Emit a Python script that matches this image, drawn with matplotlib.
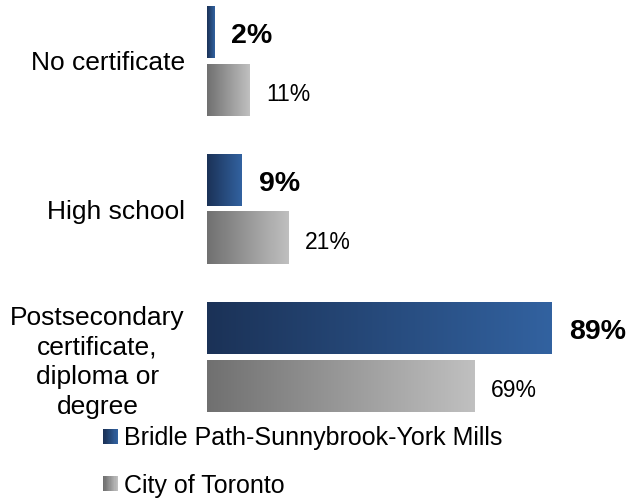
import numpy as np
import matplotlib
matplotlib.use("Agg")
import matplotlib.pyplot as plt
from matplotlib.colors import LinearSegmentedColormap
from matplotlib.legend_handler import HandlerBase
from matplotlib.patches import Rectangle

plt.rcParams["font.family"] = ["Liberation Sans", "DejaVu Sans"]

# Data
categories = ["No certificate", "High school",
              "Postsecondary\ncertificate,\ndiploma or\ndegree"]
area_values = [2, 9, 89]
city_values = [11, 21, 69]
series_names = ["Bridle Path-Sunnybrook-York Mills", "City of Toronto"]

# Gradient colour maps (dark on the left, light on the right)
blue_cmap = LinearSegmentedColormap.from_list("blue", ["#1b3257", "#3262a0"])
gray_cmap = LinearSegmentedColormap.from_list("gray", ["#707070", "#c0c0c0"])

W, H = 628, 499
fig = plt.figure(figsize=(W / 100, H / 100), dpi=100)
# axes placed in pixel terms: x from 207 px, 3.876 px per percent
ax_left, ax_width = 207, 387.6
ax_top, ax_bottom = 0, 420
ax = fig.add_axes([ax_left / W, 1 - ax_bottom / H, ax_width / W, (ax_bottom - ax_top) / H])

# group pitch is 148 px, group 0 centre at 61 px from top
pitch, c0 = 148.0, 61.0

pos = np.arange(len(categories))
bar_h = 52 / pitch
off = 29 / pitch

area_bars = ax.barh(pos - off, area_values, height=bar_h, color="none")
city_bars = ax.barh(pos + off, city_values, height=bar_h, color="none")

grad = np.linspace(0, 1, 256).reshape(1, -1)
for bars, cmap in [(area_bars, blue_cmap), (city_bars, gray_cmap)]:
    for p in bars:
        x0, y0, w, h = p.get_x(), p.get_y(), p.get_width(), p.get_height()
        ax.imshow(grad, cmap=cmap, aspect="auto",
                  extent=(x0, x0 + w, y0 + h, y0), zorder=2)

ax.set_xlim(0, 100)
ax.set_ylim((ax_bottom - c0) / pitch, (ax_top - c0) / pitch)

for p, v in zip(area_bars, area_values):
    ax.annotate(f"{v}%", (p.get_width(), p.get_y() + p.get_height() / 2),
                xytext=(12, -3), textcoords="offset points",
                ha="left", va="center", fontsize=20.5, fontweight="bold")
for p, v in zip(city_bars, city_values):
    ax.annotate(f"{v}%", (p.get_width(), p.get_y() + p.get_height() / 2),
                xytext=(12, -3), textcoords="offset points",
                ha="left", va="center", fontsize=16.5)

ax.set_yticks(pos)
ax.set_yticklabels(categories, fontsize=19, linespacing=1.3,
                   multialignment="center")
ax.tick_params(axis="y", length=0, pad=16)
ax.set_xticks([])
for s in ax.spines.values():
    s.set_visible(False)


# legend swatch with a gradient
class GradientHandler(HandlerBase):
    def __init__(self, cmap):
        super().__init__()
        self.cmap = cmap

    def create_artists(self, legend, orig_handle, xdescent, ydescent,
                       width, height, fontsize, trans):
        n = 12
        size = min(width, height)
        x0 = -xdescent + width - size
        y0 = -ydescent + (height - size) / 2
        arts = []
        for i in range(n):
            r = Rectangle((x0 + size * i / n, y0), size / n + 0.3, size,
                          facecolor=self.cmap(i / (n - 1)), edgecolor="none",
                          transform=trans)
            arts.append(r)
        return arts


h1 = Rectangle((0, 0), 1, 1)
h2 = Rectangle((0, 0), 1, 1)
leg = fig.legend([h1, h2], series_names,
                 handler_map={h1: GradientHandler(blue_cmap),
                              h2: GradientHandler(gray_cmap)},
                 loc="upper left", bbox_to_anchor=(103 / W, 1 - 426 / H),
                 frameon=False, fontsize=18, handlelength=0.6,
                 handleheight=0.6, handletextpad=0.25, labelspacing=0.95,
                 borderpad=0, borderaxespad=0)

fig.savefig("out.png", dpi=100)
